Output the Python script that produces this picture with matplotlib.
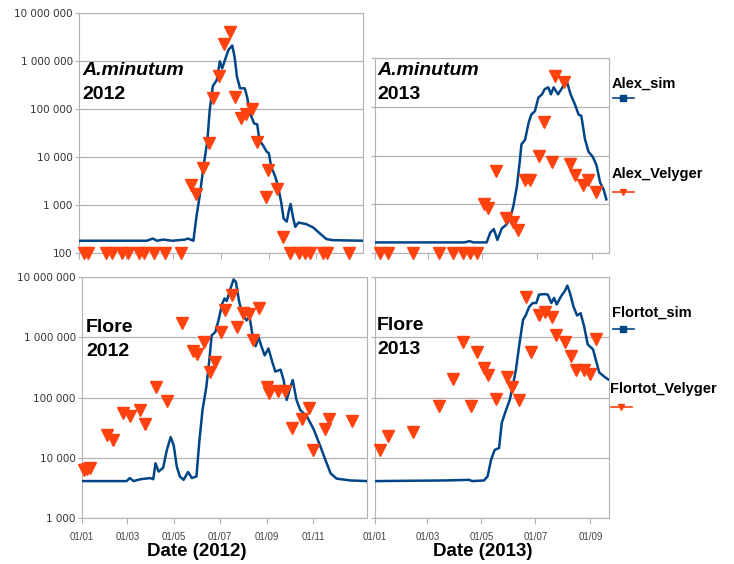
import matplotlib
matplotlib.use('Agg')
import matplotlib.pyplot as plt
import matplotlib.dates as mdates
from matplotlib.lines import Line2D
from matplotlib.ticker import FuncFormatter, NullLocator, FixedLocator
import pandas as pd

# days counted from 1 January of each year

# A. minutum 2012
alex12_sim_day = [0, 87, 95, 100, 108, 120, 136, 140, 147, 151, 155, 160, 165, 168, 172, 177, 181, 184,
                  187, 192, 197, 200, 203, 207, 213, 216, 220, 225, 229, 232, 237, 241, 244, 247, 252,
                  256, 260, 263, 267, 270, 272, 275, 278, 282, 292, 301, 309, 318, 326, 366]
alex12_sim = [180, 180, 200, 180, 190, 180, 190, 200, 180, 580, 1500, 6300, 22000, 95000, 300000, 400000,
              980000, 700000, 980000, 1700000, 2100000, 1200000, 470000, 270000, 270000, 180000, 81000,
              50000, 48000, 22000, 17000, 13000, 12000, 6300, 4000, 2400, 1100, 520, 450, 800, 1050, 560,
              350, 430, 400, 340, 260, 195, 185, 180]
alex12_vel_day = [6, 11, 35, 42, 55, 63, 77, 83, 97, 111, 131, 144, 150, 159, 167, 172, 180, 186, 194,
                  201, 208, 215, 222, 229, 240, 243, 254, 262, 271, 283, 290, 297, 313, 319, 347]
alex12_vel = [100, 100, 100, 100, 100, 100, 100, 100, 100, 100, 100, 2600, 1700, 5800, 20000, 170000,
              490000, 2300000, 4100000, 180000, 65000, 79000, 100000, 21000, 1500, 5400, 2200, 220,
              100, 100, 100, 100, 100, 100, 100]

# A. minutum 2013
alex13_sim_day = [0, 100, 106, 110, 125, 129, 133, 137, 142, 147, 151, 155, 159, 162, 164, 168, 172, 175,
                  179, 183, 187, 190, 194, 197, 200, 205, 211, 215, 219, 224, 228, 231, 235, 239, 244,
                  248, 252, 256, 259]
alex13_sim = [165, 165, 175, 165, 165, 260, 310, 185, 320, 380, 490, 930, 2400, 7400, 17000, 21000,
              47000, 69000, 81000, 155000, 180000, 230000, 250000, 180000, 250000, 180000, 270000,
              320000, 180000, 110000, 69000, 65000, 22000, 12000, 9300, 6300, 2800, 2000, 1260]
alex13_vel_day = [6, 15, 43, 72, 87, 99, 106, 114, 122, 126, 136, 147, 155, 160, 168, 174, 184, 189,
                  198, 202, 212, 218, 224, 233, 239, 247]
alex13_vel = [100, 100, 100, 100, 100, 100, 100, 100, 1000, 850, 4900, 520, 430, 300, 3100, 3100, 9800,
              49000, 7400, 430000, 320000, 6800, 3900, 2500, 3100, 1800]

# Flore 2012
flore12_sim_day = [0, 59, 63, 68, 77, 90, 94, 97, 101, 107, 112, 117, 121, 125, 129, 134, 140, 145, 151,
                   155, 159, 164, 168, 171, 176, 180, 185, 188, 191, 196, 200, 203, 207, 211, 217, 221,
                   225, 229, 233, 237, 241, 246, 251, 255, 262, 266, 270, 275, 278, 283, 288, 297, 306,
                   314, 321, 328, 336, 354, 376]
flore12_sim = [4100, 4100, 4600, 4100, 4400, 4600, 4400, 8100, 5900, 6800, 13500, 22000, 16000, 7200,
               4900, 4300, 5800, 4600, 4900, 20000, 62000, 150000, 420000, 1070000, 1230000, 1900000,
               3600000, 4400000, 4000000, 6500000, 9100000, 8300000, 4100000, 2500000, 1900000,
               2200000, 1070000, 710000, 1000000, 690000, 500000, 650000, 390000, 270000, 290000,
               195000, 91000, 150000, 195000, 91000, 62000, 48000, 29000, 16000, 9300, 5500, 4500,
               4200, 4100]
flore12_vel_day = [2, 6, 10, 33, 41, 54, 63, 77, 83, 97, 112, 132, 146, 152, 161, 169, 176, 183, 189,
                   198, 205, 213, 220, 226, 234, 244, 247, 259, 268, 277, 290, 299, 305, 320, 326, 356]
flore12_vel = [6200, 6500, 6800, 24000, 20000, 55000, 49000, 62000, 37000, 150000, 89000, 1700000,
               600000, 520000, 830000, 270000, 390000, 1230000, 2800000, 5100000, 1500000, 2500000,
               2400000, 890000, 3100000, 150000, 120000, 130000, 130000, 31000, 44000, 66000, 13500,
               30000, 44000, 40000]

# Flore 2013
flore13_sim_day = [0, 80, 106, 110, 123, 127, 131, 135, 140, 143, 148, 152, 155, 159, 163, 167, 170, 174,
                   178, 182, 185, 191, 195, 199, 202, 205, 210, 214, 217, 220, 224, 228, 232, 236, 240,
                   246, 249, 253, 259, 263]
flore13_sim = [4100, 4200, 4300, 4100, 4200, 4900, 9300, 13500, 14500, 38000, 63000, 91000, 145000,
               290000, 790000, 1950000, 2300000, 3200000, 3700000, 3700000, 5100000, 5200000, 5100000,
               3700000, 4500000, 3500000, 4800000, 5800000, 7200000, 5400000, 3200000, 2300000,
               2500000, 1500000, 760000, 630000, 430000, 260000, 220000, 200000]
flore13_vel_day = [6, 15, 43, 72, 88, 99, 108, 115, 123, 127, 137, 149, 155, 162, 170, 176, 185, 192,
                   200, 204, 214, 221, 227, 236, 242, 249]
flore13_vel = [13500, 23000, 27000, 71000, 200000, 850000, 71000, 560000, 310000, 240000, 95000, 220000,
               150000, 91000, 4700000, 560000, 2300000, 2600000, 2200000, 1100000, 850000, 490000,
               290000, 290000, 250000, 950000]

BLUE = '#004586'
ORANGE = '#ff420e'
GRID = '#b3b3b3'
W, H = 734, 564

plt.rcParams['font.family'] = 'Liberation Sans'

fig = plt.figure(figsize=(W / 100, H / 100), dpi=100)


def px_axes(x0, y0, x1, y1):
    return fig.add_axes([x0 / W, 1 - y1 / H, (x1 - x0) / W, (y1 - y0) / H])


def to_dates(year, days):
    return pd.Timestamp(f'{year}-01-01') + pd.to_timedelta(days, unit='D')


def panel(ax, year, sim_day, sim, vel_day, vel, ylim, xmax, show_y, show_x):
    ax.plot(to_dates(year, sim_day), sim, color=BLUE, lw=1.8, zorder=3)
    ax.plot(to_dates(year, vel_day), vel, ls='none', marker='v', ms=8, color=ORANGE,
            mec=ORANGE, clip_on=False, zorder=4)
    ax.set_yscale('log')
    ax.set_ylim(*ylim)
    ax.set_xlim(to_dates(year, [0])[0], to_dates(year, [xmax])[0])
    ax.yaxis.set_minor_locator(NullLocator())
    ax.yaxis.set_major_formatter(FuncFormatter(lambda v, p: f'{v:,.0f}'.replace(',', ' ')))
    months = pd.date_range(f'{year}-01-01', f'{year}-12-31', freq='2MS')
    ax.xaxis.set_major_locator(FixedLocator(mdates.date2num(months)))
    ax.xaxis.set_major_formatter(mdates.DateFormatter('%d/%m'))
    ax.yaxis.grid(True, color=GRID, lw=0.9)
    ax.set_axisbelow(True)
    for s in ax.spines.values():
        s.set_color(GRID)
    ax.tick_params(axis='y', length=3, pad=1.5, color=GRID, labelsize=7.5,
                   labelcolor='#333333', labelleft=show_y, labelfontfamily='DejaVu Sans')
    ax.tick_params(axis='x', length=4, pad=6, color=GRID, labelsize=7,
                   labelcolor='#444444', labelbottom=show_x)


ax_tl = px_axes(79, 13, 363, 253)
ax_tr = px_axes(375, 58, 609, 253)
ax_bl = px_axes(82, 277, 367, 518)
ax_br = px_axes(375, 277, 609, 518)

panel(ax_tl, 2012, alex12_sim_day, alex12_sim, alex12_vel_day, alex12_vel, (100, 1e7), 365, True, False)
panel(ax_tr, 2013, alex13_sim_day, alex13_sim, alex13_vel_day, alex13_vel, (100, 1e6), 262, False, False)
panel(ax_bl, 2012, flore12_sim_day, flore12_sim, flore12_vel_day, flore12_vel, (1000, 1e7), 376, True, True)
panel(ax_br, 2013, flore13_sim_day, flore13_sim, flore13_vel_day, flore13_vel, (1000, 1e7), 264, False, True)

ax_bl.text(0.404, -0.137, 'Date (2012)', transform=ax_bl.transAxes, ha='center', va='center',
           fontsize=13.5, fontweight='bold')
ax_br.text(0.462, -0.137, 'Date (2013)', transform=ax_br.transAxes, ha='center', va='center',
           fontsize=13.5, fontweight='bold')


def label(x, y, species, year, italic):
    fig.text(x / W, 1 - y / H, species, fontsize=14, fontweight='bold',
             fontstyle='italic' if italic else 'normal', ha='left', va='top')
    fig.text(x / W, 1 - (y + 24) / H, year, fontsize=14, fontweight='bold', ha='left', va='top')


label(82, 62, 'A.minutum', '2012', True)
label(377, 62, 'A.minutum', '2013', True)
label(86, 319, 'Flore', '2012', False)
label(377, 317, 'Flore', '2013', False)


def legend_entry(x, y_text, y_line, text, color, marker):
    fig.text(x / W, 1 - y_text / H, text, fontsize=10.5, fontweight='bold', ha='left', va='top')
    xs = [(x + 1) / W, (x + 11) / W, (x + 22) / W]
    fig.add_artist(Line2D(xs, [1 - y_line / H] * 3, transform=fig.transFigure, color=color, lw=1.2,
                          marker=marker, markevery=[1], ms=5))


legend_entry(612, 77, 98, 'Alex_sim', BLUE, 's')
legend_entry(612, 167, 192, 'Alex_Velyger', ORANGE, 'v')
legend_entry(612, 306, 329, 'Flortot_sim', BLUE, 's')
legend_entry(610, 382, 407, 'Flortot_Velyger', ORANGE, 'v')

fig.savefig('out.png', dpi=100)
